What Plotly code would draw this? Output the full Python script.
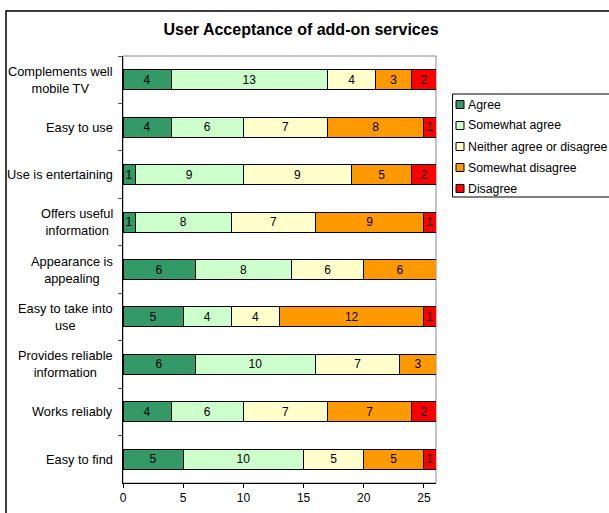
import plotly.graph_objects as go

categories = [
    "Complements well<br>mobile TV",
    "Easy to use",
    "Use is entertaining",
    "Offers useful<br>information",
    "Appearance is<br>appealing",
    "Easy to take into<br>use",
    "Provides reliable<br>information",
    "Works reliably",
    "Easy to find",
]
series_names = ["Agree", "Somewhat agree", "Neither agree or disagree",
                "Somewhat disagree", "Disagree"]
agree = [4, 4, 1, 1, 6, 5, 6, 4, 5]
somewhat_agree = [13, 6, 9, 8, 8, 4, 10, 6, 10]
neither = [4, 7, 9, 7, 6, 4, 7, 7, 5]
somewhat_disagree = [3, 8, 5, 9, 6, 12, 3, 7, 5]
disagree = [2, 1, 2, 1, 0, 1, 0, 2, 1]
colors = ["#339966", "#CCFFCC", "#FFFFCC", "#FF9900", "#FF0000"]
x_ticks = [0, 5, 10, 15, 20, 25]

FONT = "Liberation Sans, Arial, sans-serif"

fig = go.Figure()
for name, vals, col in zip(series_names,
                           [agree, somewhat_agree, neither, somewhat_disagree, disagree],
                           colors):
    fig.add_trace(go.Bar(
        y=categories, x=vals, name=name, orientation="h",
        marker=dict(color=col, line=dict(color="black", width=1)),
        text=[str(v) if v else "" for v in vals],
        textposition="inside", insidetextanchor="middle",
        textangle=0, constraintext="none",
        textfont=dict(color="black", size=12, family=FONT),
        width=0.42, hoverinfo="skip", showlegend=False,
    ))

W, H = 609, 513
L, R, T, B = 123, 436, 56, 483
pw, ph = R - L, B - T


def px(x):
    return (x - L) / pw


def py(y):
    return (B - y) / ph


shapes = [
    dict(type="rect", xref="paper", yref="paper", x0=0, x1=1, y0=0, y1=1,
         line=dict(color="#888888", width=1), layer="below"),
    dict(type="rect", xref="paper", yref="paper",
         x0=px(6), x1=px(640), y0=py(540), y1=py(11),
         line=dict(color="black", width=1.5), layer="below"),
    # legend box
    dict(type="rect", xref="paper", yref="paper",
         x0=px(452.5), x1=px(640), y0=py(197), y1=py(94),
         line=dict(color="black", width=1), fillcolor="white", layer="below"),
]
annotations = []
# category labels (centred multi-line, right-anchored next to the axis)
for cat in categories:
    annotations.append(dict(text=cat, xref="paper", yref="y", x=px(115), y=cat,
                            xanchor="right", yanchor="middle", align="center",
                            showarrow=False,
                            font=dict(size=12.8, family=FONT, color="black")))
# legend
for i, (name, col) in enumerate(zip(series_names, colors)):
    yc = 104.5 + 21 * i
    shapes.append(dict(type="rect", xref="paper", yref="paper",
                       x0=px(456), x1=px(464), y0=py(yc + 4), y1=py(yc - 4),
                       line=dict(color="black", width=1), fillcolor=col))
    annotations.append(dict(text=name, xref="paper", yref="paper",
                            x=px(466), y=py(yc), xanchor="left", yanchor="middle",
                            showarrow=False,
                            font=dict(size=12.3, family=FONT, color="black")))

fig.update_layout(
    width=W, height=H,
    margin=dict(l=L, r=W - R, t=T, b=H - B, pad=0, autoexpand=False),
    paper_bgcolor="white", plot_bgcolor="white",
    barmode="stack",
    font=dict(family=FONT, size=12, color="black"),
    title=dict(text="<b>User Acceptance of add-on services</b>",
               x=301 / W, xanchor="center", y=1 - 29 / H, yanchor="middle",
               xref="container", yref="container",
               font=dict(size=16, family=FONT, color="black")),
    showlegend=False,
    xaxis=dict(range=[0, 26], tickvals=x_ticks, ticks="outside", ticklen=4,
               tickcolor="black", showline=True, linecolor="black", linewidth=1,
               showgrid=False, zeroline=False, fixedrange=True,
               tickfont=dict(size=12, family=FONT)),
    yaxis=dict(autorange="reversed", ticks="outside", ticklen=4,
               tickson="boundaries", tickcolor="#555555",
               showticklabels=False,
               showline=True, linecolor="black", linewidth=1,
               showgrid=False, zeroline=False, fixedrange=True),
    shapes=shapes,
    annotations=annotations,
)

fig.write_html("out.html")
